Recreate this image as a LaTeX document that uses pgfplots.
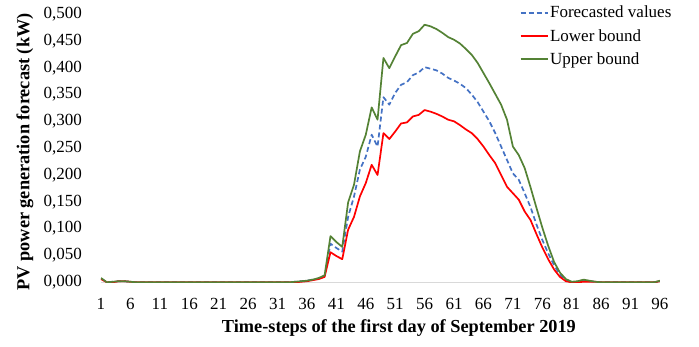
\documentclass[border=0pt]{standalone}
\usepackage{pgfplots}
\pgfplotsset{compat=1.18}
\usepackage{pgfplotstable}
\usepackage{fontspec}
\setmainfont{Liberation Serif}
\definecolor{fblue}{HTML}{4472C4}
\definecolor{lred}{HTML}{FF0000}
\definecolor{ugreen}{HTML}{548235}
\pgfplotstableread{
i U F L
1 0.008 0.007 0.006
2 0.000 0.000 0.000
3 0.001 0.001 0.000
4 0.002 0.002 0.002
5 0.002 0.002 0.002
6 0.001 0.001 0.001
7 0 0 0
8 0 0 0
9 0 0 0
10 0 0 0
11 0 0 0
12 0 0 0
13 0 0 0
14 0 0 0
15 0 0 0
16 0 0 0
17 0 0 0
18 0 0 0
19 0 0 0
20 0 0 0
21 0 0 0
22 0 0 0
23 0 0 0
24 0 0 0
25 0 0 0
26 0 0 0
27 0 0 0
28 0 0 0
29 0 0 0
30 0 0 0
31 0 0 0
32 0 0 0
33 0 0 0
34 0.001 0.001 0.000
35 0.002 0.002 0.001
36 0.003 0.003 0.002
37 0.005 0.005 0.004
38 0.008 0.007 0.006
39 0.013 0.012 0.010
40 0.086 0.072 0.056
41 0.075 0.064 0.049
42 0.066 0.057 0.043
43 0.149 0.122 0.098
44 0.182 0.160 0.122
45 0.244 0.210 0.160
46 0.275 0.234 0.185
47 0.326 0.275 0.219
48 0.303 0.253 0.200
49 0.418 0.345 0.278
50 0.399 0.331 0.267
51 0.421 0.353 0.281
52 0.442 0.368 0.296
53 0.446 0.373 0.298
54 0.463 0.386 0.309
55 0.468 0.391 0.312
56 0.480 0.401 0.321
57 0.477 0.398 0.318
58 0.472 0.395 0.314
59 0.465 0.389 0.309
60 0.457 0.381 0.303
61 0.452 0.376 0.300
62 0.445 0.370 0.293
63 0.435 0.362 0.285
64 0.424 0.350 0.278
65 0.409 0.336 0.267
66 0.390 0.318 0.253
67 0.371 0.300 0.237
68 0.351 0.278 0.222
69 0.331 0.253 0.200
70 0.303 0.228 0.178
71 0.253 0.203 0.166
72 0.237 0.191 0.154
73 0.213 0.166 0.132
74 0.177 0.140 0.116
75 0.139 0.108 0.090
76 0.102 0.079 0.065
77 0.068 0.054 0.043
78 0.038 0.032 0.024
79 0.018 0.014 0.010
80 0.006 0.004 0.002
81 0.001 0.000 0.000
82 0.002 0.001 0.000
83 0.005 0.003 0.001
84 0.003 0.002 0.001
85 0.001 0.001 0.001
86 0 0 0
87 0 0 0
88 0 0 0
89 0 0 0
90 0 0 0
91 0 0 0
92 0 0 0
93 0 0 0
94 0 0 0
95 0 0 0
96 0.003 0.002 0.002
}\pv
\begin{document}
\begin{tikzpicture}
\begin{axis}[
  width=559pt, height=268.3pt, scale only axis,
  xmin=1, xmax=96, ymin=0, ymax=0.5,
  xtick={1,6,...,96},
  ytick={0,0.05,...,0.5},
  axis x line*=bottom, axis y line*=left,
  x axis line style={draw=black!15, line width=0.8pt, -},
  y axis line style={draw=none},
  major tick length=0pt,
  tick style={draw=none},
  /pgf/number format/assume math mode=true,
  scaled y ticks=false,
  yticklabel style={/pgf/number format/.cd, fixed, fixed zerofill, precision=3, use comma, /tikz/.cd, anchor=east, inner sep=0pt, xshift=-19pt, font=\fontsize{17}{20}\selectfont},
  xticklabel style={anchor=north, inner sep=0pt, yshift=-16pt, font=\fontsize{17}{20}\selectfont},
  xlabel={\textbf{Time-steps of the first day of September 2019}},
  ylabel={\textbf{PV power generation forecast (kW)}},
  xlabel style={at={(axis description cs:0.533,-0.172)}, anchor=center, font=\fontsize{18.3}{21}\selectfont},
  ylabel style={at={(axis description cs:-0.136,0.486)}, anchor=center, rotate=0, font=\fontsize{18.3}{21}\selectfont},
  legend style={draw=none, fill=none, at={(rel axis cs:0.749,1.036)}, anchor=north west, font=\fontsize{17}{20}\selectfont, row sep=7pt, inner sep=0pt, nodes={inner sep=1.5pt}},
  legend cell align=left,
  legend image code/.code={\draw[#1] (0pt,0pt) -- (27pt,0pt);},
  every axis plot/.append style={line width=1.7pt, line join=round},
]
\addplot[fblue, dash pattern=on 5pt off 3pt] table[x=i, y=F] {\pv};
\addlegendentry{Forecasted values}
\addplot[lred] table[x=i, y=L] {\pv};
\addlegendentry{Lower bound}
\addplot[ugreen] table[x=i, y=U] {\pv};
\addlegendentry{Upper bound}
\end{axis}
\pgfresetboundingbox
\path[use as bounding box] (-101pt,-64.7pt) rectangle (598pt,282.3pt);
\end{tikzpicture}
\end{document}
